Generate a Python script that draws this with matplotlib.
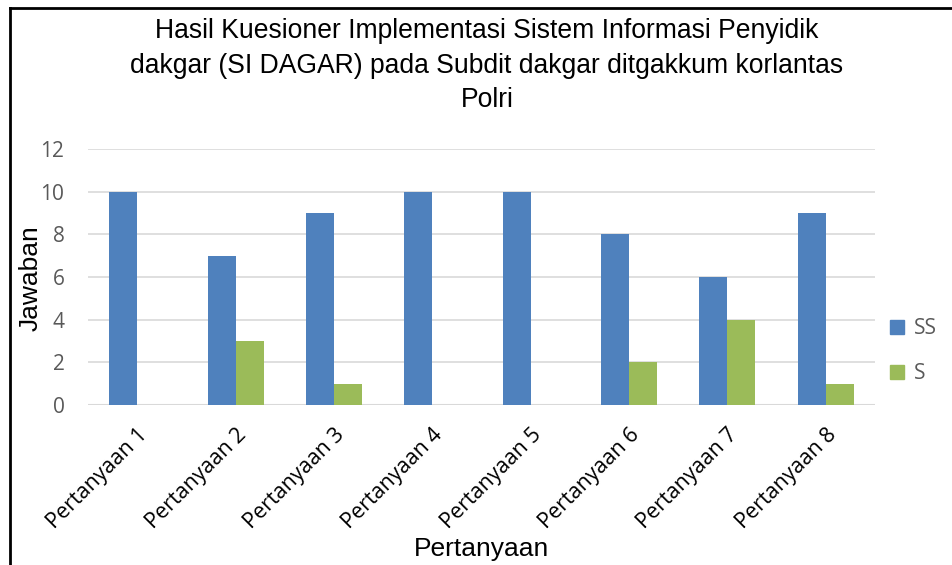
import numpy as np
import matplotlib
matplotlib.use("Agg")
import matplotlib.pyplot as plt
from matplotlib.lines import Line2D

categories = ["Pertanyaan 1", "Pertanyaan 2", "Pertanyaan 3", "Pertanyaan 4",
              "Pertanyaan 5", "Pertanyaan 6", "Pertanyaan 7", "Pertanyaan 8"]
ss_values = [10, 7, 9, 10, 10, 8, 6, 9]
s_values = [0, 3, 1, 0, 0, 2, 4, 1]
series_names = ["SS", "S"]
y_ticks = [0, 2, 4, 6, 8, 10, 12]

title_lines = ["Hasil Kuesioner Implementasi Sistem Informasi Penyidik",
               "dakgar (SI DAGAR) pada Subdit dakgar ditgakkum korlantas",
               "Polri"]

blue = "#4F81BD"
green = "#9BBB59"
gray = "#595959"

fig = plt.figure(figsize=(9.52, 5.65), dpi=100)
ax = fig.add_axes([88 / 952, 1 - 405 / 565, (875 - 88) / 952, (405 - 149) / 565])

x = np.arange(len(categories))
w = 0.285
ax.bar(x - w / 2, ss_values, w, color=blue, label=series_names[0], zorder=3)
ax.bar(x + w / 2, s_values, w, color=green, label=series_names[1], zorder=3)

ax.set_xlim(-0.5, len(categories) - 0.5)
ax.set_ylim(0, 12)
ax.set_yticks(y_ticks)
ax.set_yticklabels([str(t) for t in y_ticks], fontfamily="Open Sans",
                   fontsize=15, color=gray)
ax.set_xticks(x)
ax.set_xticklabels(categories, rotation=45, ha="right", rotation_mode="anchor",
                   fontfamily="Open Sans", fontsize=15.5, color="black")
ax.tick_params(length=0)
ax.tick_params(axis="y", pad=17)
ax.tick_params(axis="x", pad=14)
ax.grid(axis="y", color="#D9D9D9", linewidth=1.2, zorder=0)
for sp in ax.spines.values():
    sp.set_visible(False)
ax.axhline(0, color="#D9D9D9", linewidth=1.5, zorder=2)

for line, ypx in zip(title_lines, [38, 73, 107]):
    fig.text(487 / 952, 1 - ypx / 565, line, ha="center", va="baseline",
             fontfamily="Liberation Sans", fontsize=19.1)

fig.text(31 / 952, 1 - 278 / 565, "Jawaban", rotation=90, ha="center", va="center",
         fontfamily="Liberation Sans", fontsize=19)
fig.text(482 / 952, 1 - 549 / 565, "Pertanyaan", ha="center", va="center",
         fontfamily="Liberation Sans", fontsize=19)

handles = [Line2D([], [], marker="s", linestyle="none", markersize=10,
                  color=blue, label=series_names[0]),
           Line2D([], [], marker="s", linestyle="none", markersize=10,
                  color=green, label=series_names[1])]
fig.legend(handles=handles, loc="center left", bbox_to_anchor=(866 / 952, 1 - 351 / 565),
           frameon=False, handletextpad=0.2, labelspacing=1.15,
           prop={"family": "Open Sans", "size": 15}, labelcolor=gray,
           handlelength=1.2)

# outer border (top and left edges visible)
fig.add_artist(Line2D([10 / 952, 1], [1 - 8 / 565, 1 - 8 / 565],
                      color="black", linewidth=2, transform=fig.transFigure))
fig.add_artist(Line2D([10 / 952, 10 / 952], [0, 1 - 8 / 565],
                      color="black", linewidth=2, transform=fig.transFigure))

fig.savefig("out.png", dpi=100)
